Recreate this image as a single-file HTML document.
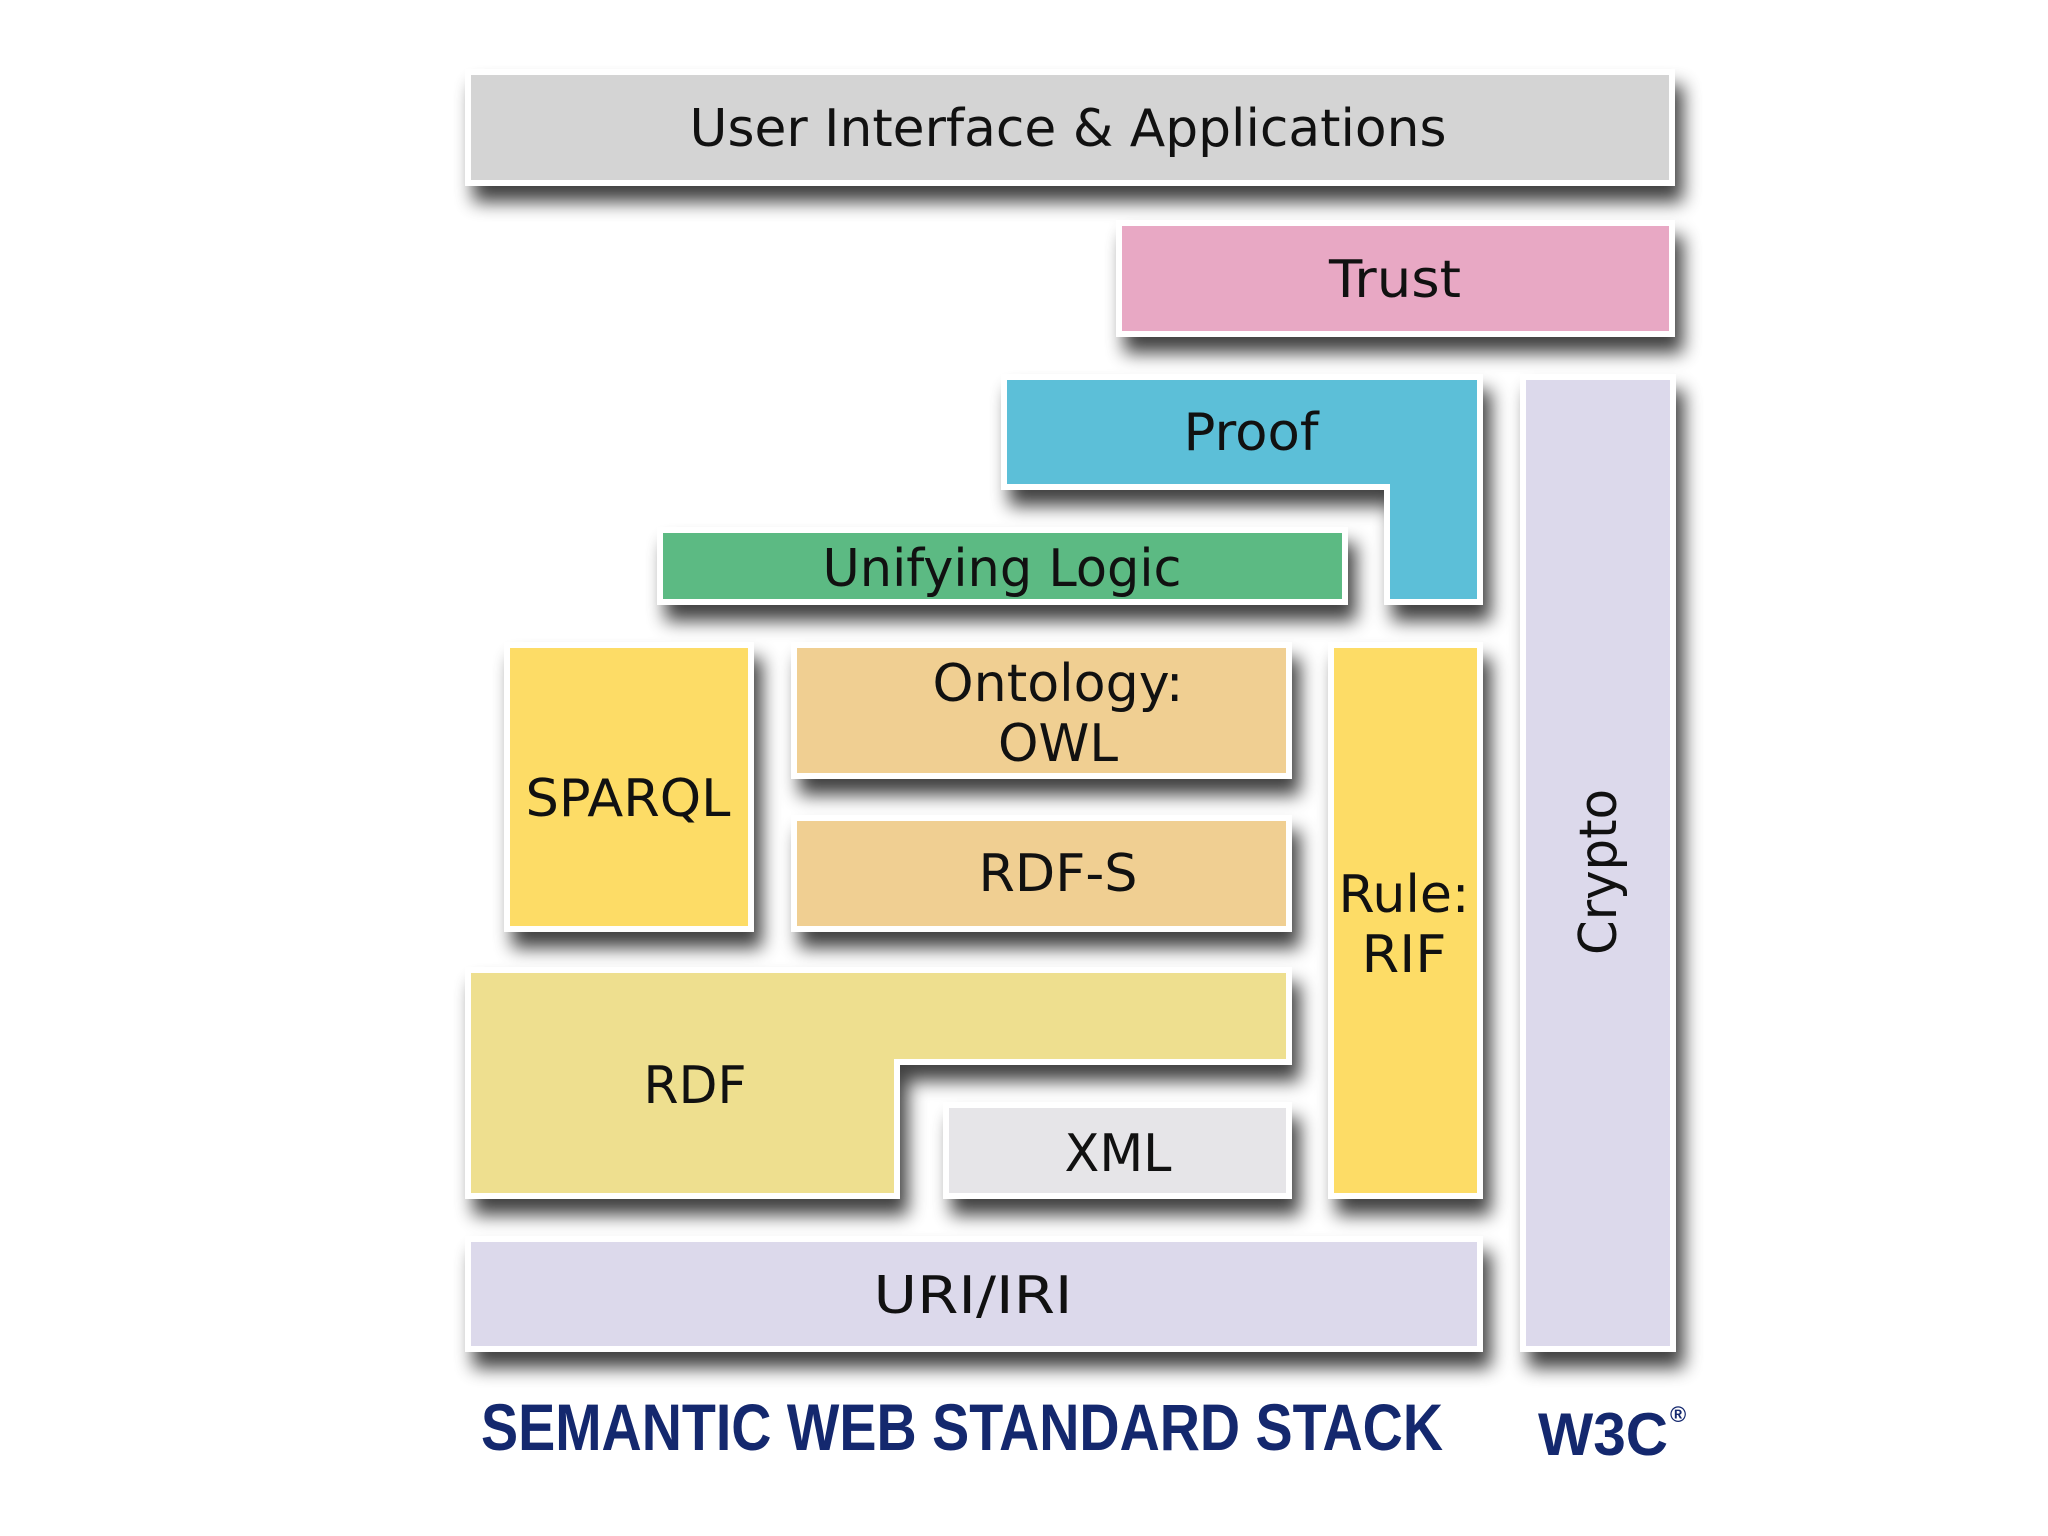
<!DOCTYPE html>
<html><head><meta charset="utf-8"><style>html,body{margin:0;padding:0;background:#fff}svg{display:block}</style></head><body>
<svg width="2048" height="1536" viewBox="0 0 2048 1536" xmlns="http://www.w3.org/2000/svg">
<defs>
<filter id="sh" x="-10%" y="-10%" width="130%" height="140%">
<feGaussianBlur in="SourceAlpha" stdDeviation="9" result="b"/>
<feOffset in="b" dx="8" dy="16" result="o"/>
<feComponentTransfer in="o" result="o2"><feFuncA type="linear" slope="0.75"/></feComponentTransfer>
<feMerge><feMergeNode in="o2"/><feMergeNode in="SourceGraphic"/></feMerge>
</filter>
</defs>
<rect width="2048" height="1536" fill="#fff"/>
<g filter="url(#sh)" stroke="#fff" stroke-width="6">
<rect x="468" y="72" width="1204" height="111" fill="#d4d4d4"/>
<rect x="1119" y="223" width="553" height="111" fill="#e8a8c4"/>
<rect x="1523" y="377" width="150" height="972" fill="#dcd9eb"/>
<path d="M1004 377 H1480 V602 H1387 V487 H1004 Z" fill="#5bbfd8"/>
<rect x="660" y="530" width="685" height="72" fill="#5cba83"/>
<rect x="507" y="645" width="244" height="284" fill="#fddc66"/>
<rect x="794" y="645" width="495" height="131" fill="#f0cf92"/>
<rect x="794" y="818" width="495" height="111" fill="#f0cf92"/>
<rect x="1331" y="645" width="149" height="551" fill="#fddc66"/>
<path d="M468 970 H1289 V1062 H897 V1196 H468 Z" fill="#eedf8f"/>
<rect x="946" y="1105" width="343" height="91" fill="#e6e5e8"/>
<rect x="468" y="1239" width="1012" height="110" fill="#dcd9eb"/>
</g>
<g font-family="DejaVu Sans, Verdana, sans-serif" font-size="52" fill="#111" text-anchor="middle">
<text x="1068" y="146" textLength="757" lengthAdjust="spacingAndGlyphs">User Interface &amp; Applications</text>
<text x="1395" y="297" textLength="132" lengthAdjust="spacingAndGlyphs">Trust</text>
<text x="1251" y="450" textLength="135" lengthAdjust="spacingAndGlyphs">Proof</text>
<text x="1002" y="586" textLength="359" lengthAdjust="spacingAndGlyphs">Unifying Logic</text>
<text x="628" y="816" textLength="205" lengthAdjust="spacingAndGlyphs">SPARQL</text>
<text x="1058" y="701" textLength="251" lengthAdjust="spacingAndGlyphs">Ontology:</text>
<text x="1058" y="761" textLength="120" lengthAdjust="spacingAndGlyphs">OWL</text>
<text x="1058" y="891" textLength="159" lengthAdjust="spacingAndGlyphs">RDF-S</text>
<text x="1404" y="912" textLength="131" lengthAdjust="spacingAndGlyphs">Rule:</text>
<text x="1404" y="972" textLength="85" lengthAdjust="spacingAndGlyphs">RIF</text>
<text x="695" y="1103" textLength="103" lengthAdjust="spacingAndGlyphs">RDF</text>
<text x="1118" y="1171" textLength="107" lengthAdjust="spacingAndGlyphs">XML</text>
<text x="973" y="1313" textLength="199" lengthAdjust="spacingAndGlyphs">URI/IRI</text>
<text transform="translate(1616,872) rotate(-90)" x="0" y="0" textLength="166" lengthAdjust="spacingAndGlyphs">Crypto</text>
</g>
<g font-family="Liberation Sans, sans-serif" font-weight="bold" fill="#14286e">
<text x="481" y="1450" font-size="66" textLength="962" lengthAdjust="spacingAndGlyphs">SEMANTIC WEB STANDARD STACK</text>
<text x="1538" y="1455" font-size="60" textLength="130" lengthAdjust="spacingAndGlyphs">W3C</text>
<text x="1670" y="1422" font-size="22">®</text>
</g>
</svg>
</body></html>
